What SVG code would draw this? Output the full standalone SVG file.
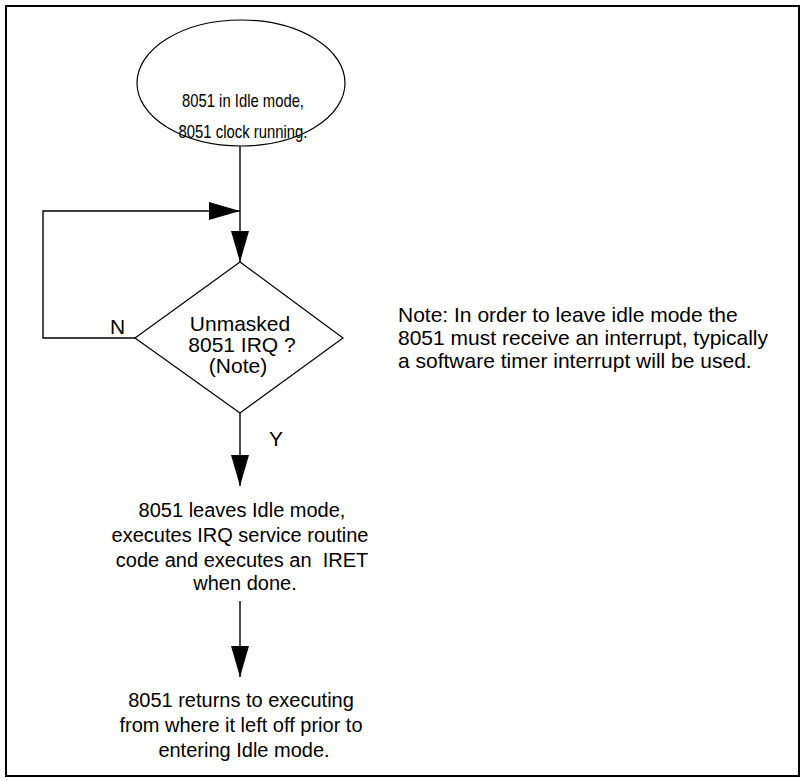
<svg xmlns="http://www.w3.org/2000/svg" width="805" height="780" viewBox="0 0 805 780">
<defs>
<style>
text{font-family:"Liberation Sans",Arial,sans-serif;font-size:21px;fill:#000}
.c{text-anchor:middle}
.s20{font-size:20px}
.el{font-size:19px}
.ln{fill:none;stroke:#000;stroke-width:1.4}
.shape{fill:#fff;stroke:#000;stroke-width:1.2}
</style>
<marker id="ah" markerUnits="userSpaceOnUse" markerWidth="31" markerHeight="18" refX="31" refY="9" orient="auto">
<path d="M0,0 L31,9 L0,18 z" fill="#000"/>
</marker>
</defs>
<rect width="805" height="780" fill="#fff"/>
<g id="frame">
<rect x="6" y="6" width="793" height="770" fill="none" stroke="#000" stroke-width="2"/>
</g>
<g id="connectors">
<line class="ln" x1="240" y1="146" x2="240" y2="262" marker-end="url(#ah)"/>
<polyline class="ln" points="135,338 43,338 43,211 240,211" marker-end="url(#ah)"/>
<line class="ln" x1="240" y1="413" x2="240" y2="486" marker-end="url(#ah)"/>
<line class="ln" x1="240" y1="601" x2="240" y2="677" marker-end="url(#ah)"/>
<text x="110" y="334">N</text>
<text x="269" y="446">Y</text>
</g>
<g id="start">
<ellipse class="shape" cx="241" cy="83" rx="104" ry="63"/>
<text class="c el" x="243" y="107" textLength="122" lengthAdjust="spacingAndGlyphs">8051 in Idle mode,</text>
<text class="c el" x="243" y="138" textLength="129" lengthAdjust="spacingAndGlyphs">8051 clock running.</text>
</g>
<g id="decision">
<polygon class="shape" points="240,262 343,338 240,413 135,338"/>
<text class="c" x="240" y="331">Unmasked</text>
<text class="c" x="242" y="352">8051 IRQ ?</text>
<text class="c" x="238" y="373">(Note)</text>
</g>
<g id="note">
<text x="398" y="322">Note: In order to leave idle mode the</text>
<text x="398" y="345">8051 must receive an interrupt, typically</text>
<text x="398" y="368">a software timer interrupt will be used.</text>
</g>
<g id="service">
<text class="c s20" x="242" y="517">8051 leaves Idle mode,</text>
<text class="c s20" x="240" y="542">executes IRQ service routine</text>
<text class="c s20" x="242" y="567" xml:space="preserve">code and executes an  IRET</text>
<text class="c s20" x="245" y="590">when done.</text>
</g>
<g id="return">
<text class="c s20" x="241" y="707">8051 returns to executing</text>
<text class="c s20" x="241" y="732">from where it left off prior to</text>
<text class="c s20" x="244" y="757">entering Idle mode.</text>
</g>
</svg>
